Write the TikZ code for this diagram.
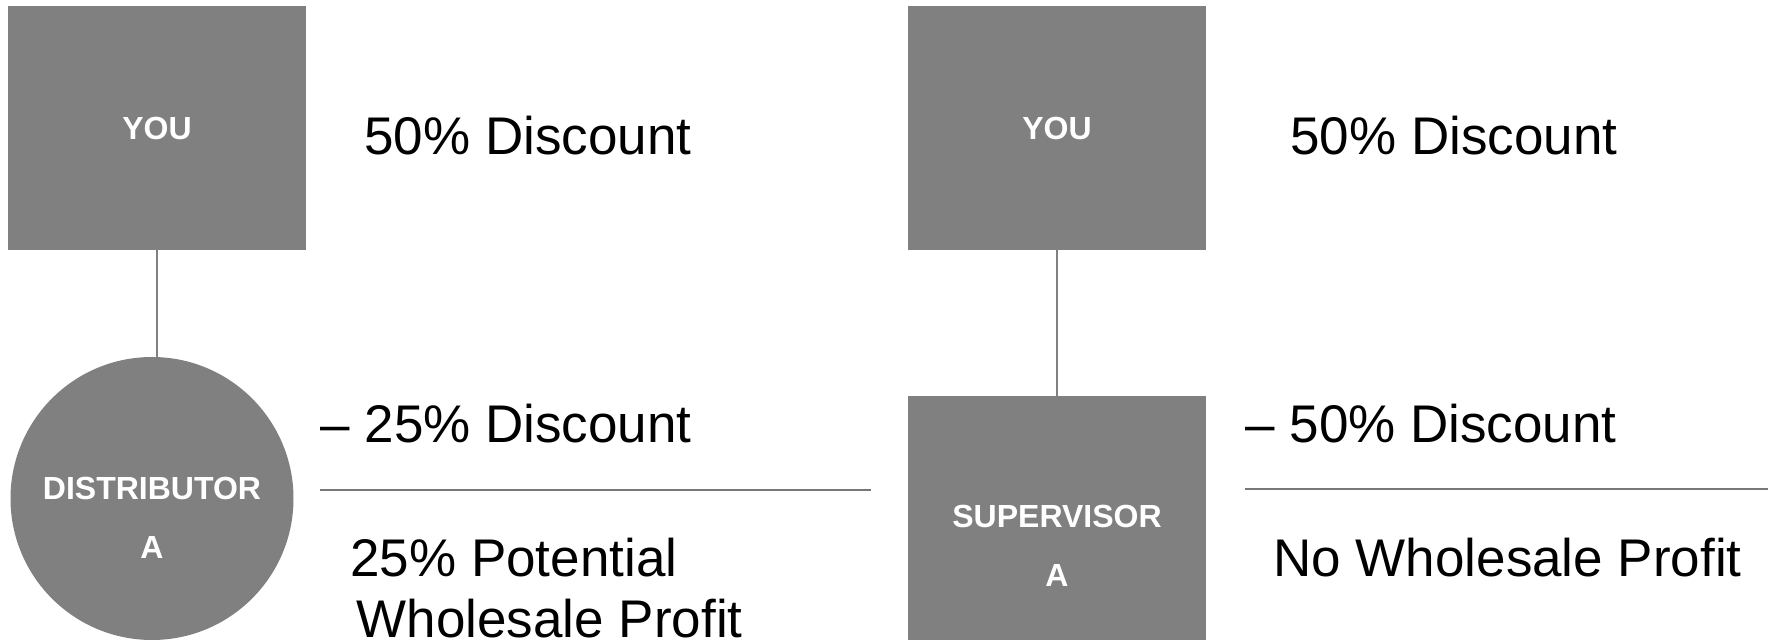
\documentclass[tikz,border=0pt]{standalone}
\usepackage{fontspec}
\setmainfont{Liberation Sans}
\usetikzlibrary{positioning}
\definecolor{boxgray}{RGB}{128,128,128}
\definecolor{rulegray}{RGB}{120,120,120}
\def\boxw{149pt}
\def\boxh{122pt}
\def\circd{141.5pt}
\tikzstyle{every picture}+=[
  boxnode/.style={fill=boxgray,shape=rectangle,minimum width=\boxw,minimum height=\boxh,inner sep=0pt},
  roundnode/.style={fill=boxgray,shape=circle,minimum size=\circd,inner sep=0pt},
  lblnode/.style={text=white,font=\bfseries\fontsize{16}{29.5}\selectfont,align=center,inner sep=0pt},
  txtnode/.style={font=\fontsize{26.5}{30.5}\selectfont,anchor=base west,inner sep=0pt,align=left},
  link/.style={draw=boxgray,line width=1pt},
  sumline/.style={draw=rulegray,line width=0.7pt}
]

\begin{document}
\begin{tikzpicture}[x=0.5pt,y=-0.5pt]
      \useasboundingbox (0,0) rectangle (1768,640);
      % left: distributor
      \node[style=boxnode] (you1) at (157,128) {};
      \node[style=roundnode] (dist) at (152,498.5) {};
      \node[style=lblnode] at (you1) (you1lbl) {YOU};
      \node[style=lblnode,yshift=-9.5pt] at (dist) (distlbl) {DISTRIBUTOR\\A};
      \path [style=link] (you1) -- (you1 |- dist.north);
      %
      \node[style=txtnode] (disc1) at (364,155) {50\% Discount};
      \node[style=txtnode] (less1) at (320,443) {– 25\% Discount};
      \node[style=txtnode] (profit1) at (350,638) {25\% Potential\\\hspace*{0.12em}Wholesale Profit};
      \coordinate (r1a) at (320,490);
      \coordinate (r1b) at (871,490);
      \path [style=sumline] (r1a) -- (r1b);
      % right: supervisor
      \node[style=boxnode] (you2) at (1057,128) {};
      \node[style=boxnode] (sup) at (1057,518) {};
      \node[style=lblnode] at (you2) (you2lbl) {YOU};
      \node[style=lblnode,yshift=-14pt] at (sup) (suplbl) {SUPERVISOR\\A};
      \path [style=link] (you2) -- (sup);
      %
      \node[style=txtnode] (disc2) at (1290,155) {50\% Discount};
      \node[style=txtnode] (less2) at (1245,443) {– 50\% Discount};
      \node[style=txtnode] (profit2) at (1273,577) {No Wholesale Profit};
      \coordinate (r2a) at (1245,489);
      \coordinate (r2b) at (1768,489);
      \path [style=sumline] (r2a) -- (r2b);
      %
\end{tikzpicture}
\end{document}
